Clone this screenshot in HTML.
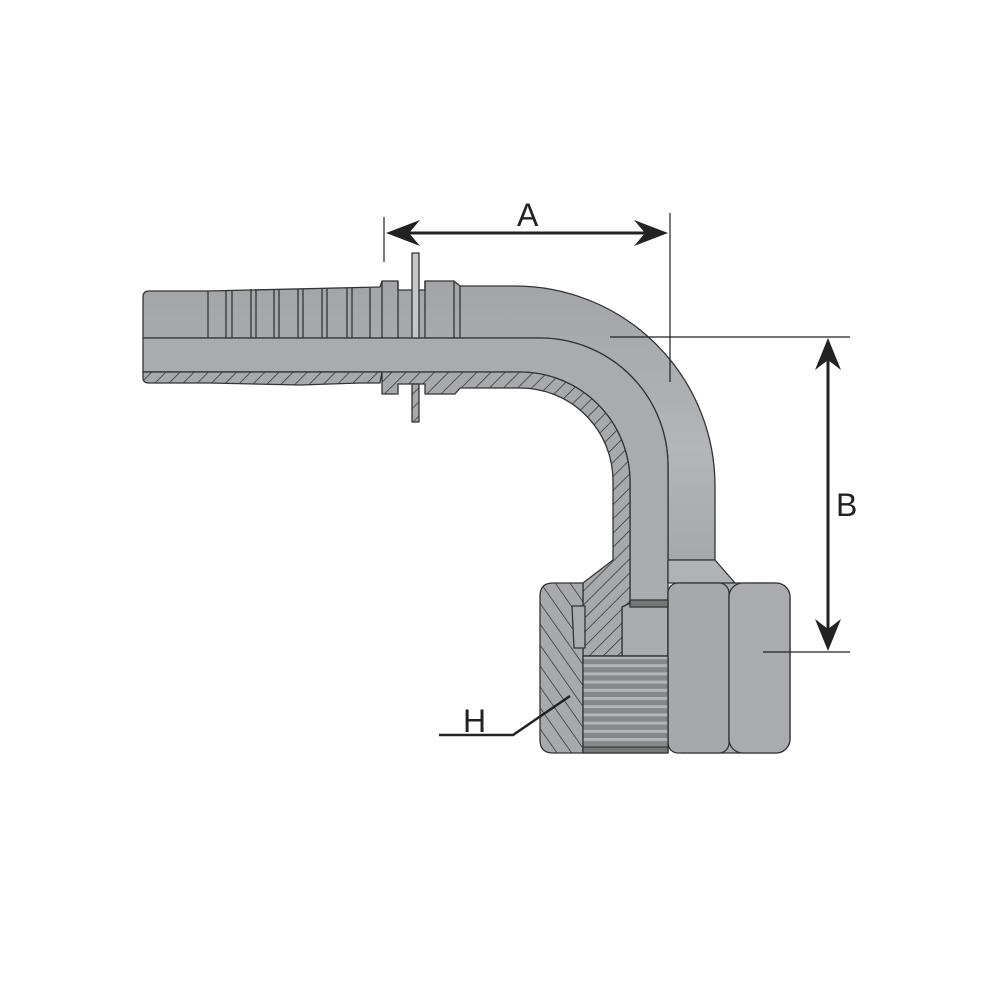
<!DOCTYPE html>
<html><head><style>html,body{margin:0;padding:0;background:#fff}svg{display:block}</style></head>
<body>
<svg width="1000" height="1000" viewBox="0 0 1000 1000" xmlns="http://www.w3.org/2000/svg">
<defs>
<pattern id="h1" patternUnits="userSpaceOnUse" width="10" height="10" patternTransform="rotate(45)">
<rect width="10" height="10" fill="#a7a9ac"/><line x1="0" y1="0" x2="0" y2="10" stroke="#333" stroke-width="1.5"/></pattern>
<pattern id="h2" patternUnits="userSpaceOnUse" width="12" height="12" patternTransform="rotate(-35)">
<rect width="12" height="12" fill="#a7a9ac"/><line x1="0" y1="0" x2="0" y2="12" stroke="#333" stroke-width="1.5"/></pattern>
<pattern id="th" patternUnits="userSpaceOnUse" width="10" height="8.2">
<rect width="10" height="8.2" fill="#86888c"/><rect y="0" width="10" height="3" fill="#b4b6b9"/></pattern>
<linearGradient id="gtop" x1="0" y1="0" x2="0" y2="1"><stop offset="0" stop-color="#a2a4a7"/><stop offset="0.6" stop-color="#b3b5b8"/><stop offset="1" stop-color="#a6a8ab"/></linearGradient>
</defs>
<g stroke="#333" stroke-width="1.3" stroke-linejoin="round">
<path d="M149 291 L208 291 L380 287 L382 281 L398 281 L398 290 L425 290 L425 281 L454 281 L460 286 L515 286 A200 200 0 0 1 715 486 L715 560 L668 560 L668 466 A128 128 0 0 0 540 338 L143 338 L143 297 Q143 291 149 291 Z" fill="url(#gtop)"/>
<path d="M143 338 L540 338 A128 128 0 0 1 668 466 L668 656 L622 656 L622 607 L630 603 L630 482 A110 110 0 0 0 520 372 L143 372 Z" fill="#a9abae"/>
<path d="M143 372 L380 372 L380 372 L382 372 L382 394 L398 394 L398 384 L425 384 L425 394 L455 394 L460 388 L520 388 A93 93 0 0 1 613 481 L613 560 L583 583 L583 656 L622 656 L622 607 L630 603 L630 482 A110 110 0 0 0 520 372 Z" fill="url(#h1)"/>
<path d="M143 372 L382 372 L380 383 L360 383 L300 385 L210 383 L149 383 Q143 383 143 378 Z" fill="url(#h1)"/>
<path d="M668 560 L715 560 L735 583 L668 583 Z" fill="#b0b2b5"/>
<rect x="668" y="583" width="122" height="170" rx="14" fill="#a9abae"/>
<rect x="668" y="583" width="61" height="170" rx="10" fill="#a6a8ab"/>
<rect x="729" y="583" width="61" height="170" rx="14" fill="#a9abae"/>
<path d="M553 583 L583 583 L583 656 L583 753 L553 753 Q540 753 540 740 L540 596 Q540 583 553 583 Z" fill="url(#h2)"/>
<path d="M572 606 L585 606 L585 648 L574 648 Z" fill="#a9abae"/>
<rect x="583" y="656" width="85" height="97" fill="url(#th)"/>
<line x1="583" y1="656" x2="668" y2="656"/>
<rect x="583" y="747" width="85" height="6" fill="#777"/>
<rect x="630" y="600" width="38" height="7" fill="#777"/>
<g fill="none">
<line x1="208" y1="291" x2="208" y2="338"/><line x1="226" y1="290" x2="226" y2="338"/><line x1="232" y1="290" x2="232" y2="338"/>
<line x1="251" y1="289" x2="251" y2="338"/><line x1="256" y1="289" x2="256" y2="338"/><line x1="274" y1="289" x2="274" y2="338"/>
<line x1="279" y1="289" x2="279" y2="338"/><line x1="298" y1="289" x2="298" y2="338"/><line x1="303" y1="289" x2="303" y2="338"/>
<line x1="322" y1="288" x2="322" y2="338"/><line x1="327" y1="288" x2="327" y2="338"/><line x1="347" y1="288" x2="347" y2="338"/>
<line x1="352" y1="288" x2="352" y2="338"/><line x1="370" y1="288" x2="370" y2="338"/><line x1="382" y1="281" x2="382" y2="338"/>
<line x1="398" y1="281" x2="398" y2="338"/><line x1="425" y1="281" x2="425" y2="338"/><line x1="454" y1="281" x2="454" y2="338"/>
<line x1="460" y1="286" x2="460" y2="338"/>
</g>
<rect x="412" y="253" width="7" height="85" fill="#c4c6c8"/>
<rect x="412" y="384" width="7" height="38" fill="url(#h1)"/>
</g>
<g stroke="#222" fill="#222">
<line x1="384" y1="217" x2="384" y2="262" stroke-width="1.2"/>
<line x1="670" y1="213" x2="670" y2="382" stroke-width="1.2"/>
<line x1="392" y1="233" x2="662" y2="233" stroke-width="3"/>
<path d="M386 233 L420 220 L409 233 L420 246 Z" stroke="none"/>
<path d="M668 233 L634 220 L645 233 L634 246 Z" stroke="none"/>
<line x1="610" y1="337" x2="850" y2="337" stroke-width="1.2"/>
<line x1="763" y1="652" x2="850" y2="652" stroke-width="1.2"/>
<line x1="828" y1="345" x2="828" y2="645" stroke-width="3"/>
<path d="M828 338 L815 370 L828 360 L841 370 Z" stroke="none"/>
<path d="M828 651 L815 619 L828 629 L841 619 Z" stroke="none"/>
<polyline points="439,735 513,735 570,696" fill="none" stroke-width="2.5"/>
</g>
<g font-family="Liberation Sans, sans-serif" font-size="32" fill="#222">
<text x="517" y="226">A</text>
<text x="836" y="516">B</text>
<text x="463" y="732">H</text>
</g>
</svg>
</body></html>
